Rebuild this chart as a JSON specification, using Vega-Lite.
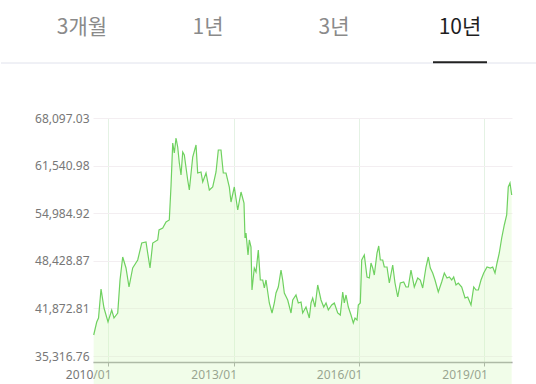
{
  "$schema": "https://vega.github.io/schema/vega-lite/v6.json",
  "padding": 0,
  "spacing": 48,
  "background": "white",
  "config": {
    "view": {"stroke": null},
    "font": "Noto Sans"
  },
  "vconcat": [
    {
      "width": 444,
      "height": 63,
      "data": {"values": [
        {"tab": "3개월", "i": 0, "sel": "n"},
        {"tab": "1년", "i": 1, "sel": "n"},
        {"tab": "3년", "i": 2, "sel": "n"},
        {"tab": "10년", "i": 3, "sel": "y"}
      ]},
      "layer": [
        {
          "mark": {"type": "rule", "color": "#eef0f5", "strokeWidth": 1},
          "encoding": {
            "x": {"datum": -0.6429, "scale": {"domain": [0.0873, 3.6111], "nice": false, "zero": false}, "axis": null},
            "x2": {"datum": 3.6111},
            "y": {"datum": 0, "scale": {"domain": [0, 1]}, "axis": null}
          }
        },
        {
          "mark": {"type": "text", "fontSize": 21, "font": "Noto Sans CJK KR", "baseline": "middle", "align": "center"},
          "encoding": {
            "x": {"field": "i", "type": "quantitative", "scale": {"domain": [0.0873, 3.6111], "nice": false, "zero": false}, "axis": null},
            "y": {"datum": 0.556, "scale": {"domain": [0, 1]}, "axis": null},
            "text": {"field": "tab"},
            "color": {"field": "sel", "type": "nominal", "scale": {"domain": ["n", "y"], "range": ["#8a8a8a", "#1e1e1e"]}, "legend": null}
          }
        },
        {
          "transform": [{"filter": "datum.sel == 'y'"}],
          "mark": {"type": "tick", "thickness": 2, "size": 54, "color": "#222222", "opacity": 1, "orient": "horizontal"},
          "encoding": {
            "x": {"field": "i", "type": "quantitative", "scale": {"domain": [0.0873, 3.6111], "nice": false, "zero": false}, "axis": null},
            "y": {"datum": 0.012, "scale": {"domain": [0, 1]}, "axis": null}
          }
        }
      ]
    },
    {
      "width": 419,
      "height": 244,
      "data": {"values": [
        {"t": 2009.658, "v": 38210}, {"t": 2009.730, "v": 40000}, {"t": 2009.773, "v": 40551}, {"t": 2009.833, "v": 44545},
        {"t": 2009.904, "v": 41928}, {"t": 2010.000, "v": 40000}, {"t": 2010.088, "v": 41653}, {"t": 2010.143, "v": 40551},
        {"t": 2010.232, "v": 41240}, {"t": 2010.287, "v": 45785}, {"t": 2010.351, "v": 48953}, {"t": 2010.430, "v": 47437},
        {"t": 2010.502, "v": 44821}, {"t": 2010.590, "v": 47437}, {"t": 2010.710, "v": 48539}, {"t": 2010.806, "v": 50881},
        {"t": 2010.908, "v": 51019}, {"t": 2011.004, "v": 47437}, {"t": 2011.069, "v": 50881}, {"t": 2011.188, "v": 51294},
        {"t": 2011.219, "v": 52671}, {"t": 2011.308, "v": 52947}, {"t": 2011.387, "v": 53773}, {"t": 2011.465, "v": 54049},
        {"t": 2011.506, "v": 58731}, {"t": 2011.547, "v": 64654}, {"t": 2011.585, "v": 63276}, {"t": 2011.626, "v": 65342},
        {"t": 2011.666, "v": 64103}, {"t": 2011.705, "v": 61899}, {"t": 2011.745, "v": 60246}, {"t": 2011.786, "v": 63414},
        {"t": 2011.824, "v": 63001}, {"t": 2011.905, "v": 59558}, {"t": 2011.944, "v": 58181}, {"t": 2012.025, "v": 62726},
        {"t": 2012.104, "v": 64378}, {"t": 2012.144, "v": 60522}, {"t": 2012.223, "v": 60659}, {"t": 2012.264, "v": 59282},
        {"t": 2012.343, "v": 60522}, {"t": 2012.422, "v": 58181}, {"t": 2012.503, "v": 58594}, {"t": 2012.582, "v": 60659},
        {"t": 2012.637, "v": 63690}, {"t": 2012.701, "v": 63690}, {"t": 2012.756, "v": 60522}, {"t": 2012.821, "v": 60522},
        {"t": 2012.900, "v": 58594}, {"t": 2012.940, "v": 56528}, {"t": 2013.019, "v": 58594}, {"t": 2013.101, "v": 55426},
        {"t": 2013.180, "v": 57905}, {"t": 2013.251, "v": 56390}, {"t": 2013.275, "v": 51569}, {"t": 2013.299, "v": 52258},
        {"t": 2013.347, "v": 49227}, {"t": 2013.378, "v": 51294}, {"t": 2013.418, "v": 50330}, {"t": 2013.442, "v": 44408},
        {"t": 2013.497, "v": 47437}, {"t": 2013.538, "v": 46886}, {"t": 2013.593, "v": 49917}, {"t": 2013.641, "v": 45785},
        {"t": 2013.698, "v": 45785}, {"t": 2013.737, "v": 44683}, {"t": 2013.777, "v": 45785}, {"t": 2013.856, "v": 42617},
        {"t": 2013.921, "v": 41240}, {"t": 2013.976, "v": 42617}, {"t": 2014.016, "v": 43995}, {"t": 2014.071, "v": 44821},
        {"t": 2014.136, "v": 47162}, {"t": 2014.176, "v": 45785}, {"t": 2014.215, "v": 43995}, {"t": 2014.296, "v": 43030},
        {"t": 2014.375, "v": 41240}, {"t": 2014.416, "v": 43030}, {"t": 2014.494, "v": 43719}, {"t": 2014.549, "v": 42617},
        {"t": 2014.614, "v": 42755}, {"t": 2014.654, "v": 41240}, {"t": 2014.733, "v": 42066}, {"t": 2014.812, "v": 40551},
        {"t": 2014.853, "v": 42617}, {"t": 2014.893, "v": 43306}, {"t": 2014.949, "v": 42066}, {"t": 2015.013, "v": 45097},
        {"t": 2015.092, "v": 43030}, {"t": 2015.157, "v": 42066}, {"t": 2015.212, "v": 42617}, {"t": 2015.267, "v": 41653},
        {"t": 2015.348, "v": 42342}, {"t": 2015.410, "v": 42617}, {"t": 2015.491, "v": 41240}, {"t": 2015.553, "v": 40964},
        {"t": 2015.611, "v": 44132}, {"t": 2015.649, "v": 42617}, {"t": 2015.690, "v": 43719}, {"t": 2015.745, "v": 42066},
        {"t": 2015.809, "v": 40964}, {"t": 2015.864, "v": 39862}, {"t": 2015.905, "v": 40551}, {"t": 2015.953, "v": 40275},
        {"t": 2015.984, "v": 42342}, {"t": 2016.032, "v": 42617}, {"t": 2016.065, "v": 48539}, {"t": 2016.127, "v": 49227},
        {"t": 2016.192, "v": 46198}, {"t": 2016.247, "v": 46060}, {"t": 2016.287, "v": 48126}, {"t": 2016.328, "v": 47437},
        {"t": 2016.366, "v": 46473}, {"t": 2016.431, "v": 49504}, {"t": 2016.472, "v": 50468}, {"t": 2016.510, "v": 48539},
        {"t": 2016.567, "v": 48539}, {"t": 2016.605, "v": 47575}, {"t": 2016.670, "v": 47575}, {"t": 2016.725, "v": 45372},
        {"t": 2016.806, "v": 47850}, {"t": 2016.861, "v": 45372}, {"t": 2016.926, "v": 43444}, {"t": 2016.988, "v": 45372},
        {"t": 2017.069, "v": 45510}, {"t": 2017.124, "v": 44821}, {"t": 2017.179, "v": 44821}, {"t": 2017.243, "v": 47162},
        {"t": 2017.322, "v": 44821}, {"t": 2017.404, "v": 46060}, {"t": 2017.466, "v": 45785}, {"t": 2017.523, "v": 44683},
        {"t": 2017.602, "v": 47575}, {"t": 2017.657, "v": 48953}, {"t": 2017.705, "v": 47437}, {"t": 2017.762, "v": 46749},
        {"t": 2017.817, "v": 45785}, {"t": 2017.896, "v": 44132}, {"t": 2017.977, "v": 45510}, {"t": 2018.040, "v": 46749},
        {"t": 2018.104, "v": 46060}, {"t": 2018.159, "v": 46198}, {"t": 2018.217, "v": 45785}, {"t": 2018.264, "v": 46198},
        {"t": 2018.319, "v": 45097}, {"t": 2018.374, "v": 45372}, {"t": 2018.456, "v": 44821}, {"t": 2018.535, "v": 43306},
        {"t": 2018.599, "v": 43444}, {"t": 2018.678, "v": 42342}, {"t": 2018.743, "v": 44821}, {"t": 2018.798, "v": 44408},
        {"t": 2018.853, "v": 44408}, {"t": 2018.917, "v": 45785}, {"t": 2018.982, "v": 46749}, {"t": 2019.061, "v": 47575},
        {"t": 2019.140, "v": 47437}, {"t": 2019.197, "v": 47575}, {"t": 2019.252, "v": 46749}, {"t": 2019.300, "v": 48126},
        {"t": 2019.354, "v": 49504}, {"t": 2019.412, "v": 51569}, {"t": 2019.474, "v": 53360}, {"t": 2019.531, "v": 54737},
        {"t": 2019.569, "v": 58594}, {"t": 2019.610, "v": 59145}, {"t": 2019.651, "v": 57492}
      ]},
      "mark": {
        "type": "area",
        "color": "#d8f8c0",
        "fillOpacity": 0.35,
        "line": {"color": "#6fd160", "strokeWidth": 1.2}
      },
      "encoding": {
        "x": {
          "field": "t", "type": "quantitative",
          "scale": {"domain": [2009.641, 2019.658], "nice": false, "zero": false},
          "axis": {
            "title": null,
            "values": [2010, 2013, 2016, 2019],
            "format": "d",
            "labelExpr": "datum.label + '/01'",
            "labelAlign": "right",
            "labelOffset": 3,
            "labelFontSize": 12,
            "labelColor": "#777777",
            "labelPadding": 3,
            "tickSize": 4,
            "tickColor": "#999999",
            "domainColor": "#999999",
            "domainWidth": 1.5,
            "gridColor": "#e4f2e4",
            "labelFont": "Noto Sans"
          }
        },
        "y": {
          "field": "v", "type": "quantitative",
          "scale": {"domain": [34490.4, 68097.03], "nice": false, "zero": false},
          "axis": {
            "title": null,
            "values": [35316.76, 41872.81, 48428.87, 54984.92, 61540.98, 68097.03],
            "format": ",.2f",
            "domain": false,
            "ticks": false,
            "labelPadding": 4,
            "labelFontSize": 12,
            "labelColor": "#777777",
            "gridColor": "#f3eef1",
            "minExtent": 92,
            "labelFont": "Noto Sans"
          }
        }
      }
    }
  ]
}
